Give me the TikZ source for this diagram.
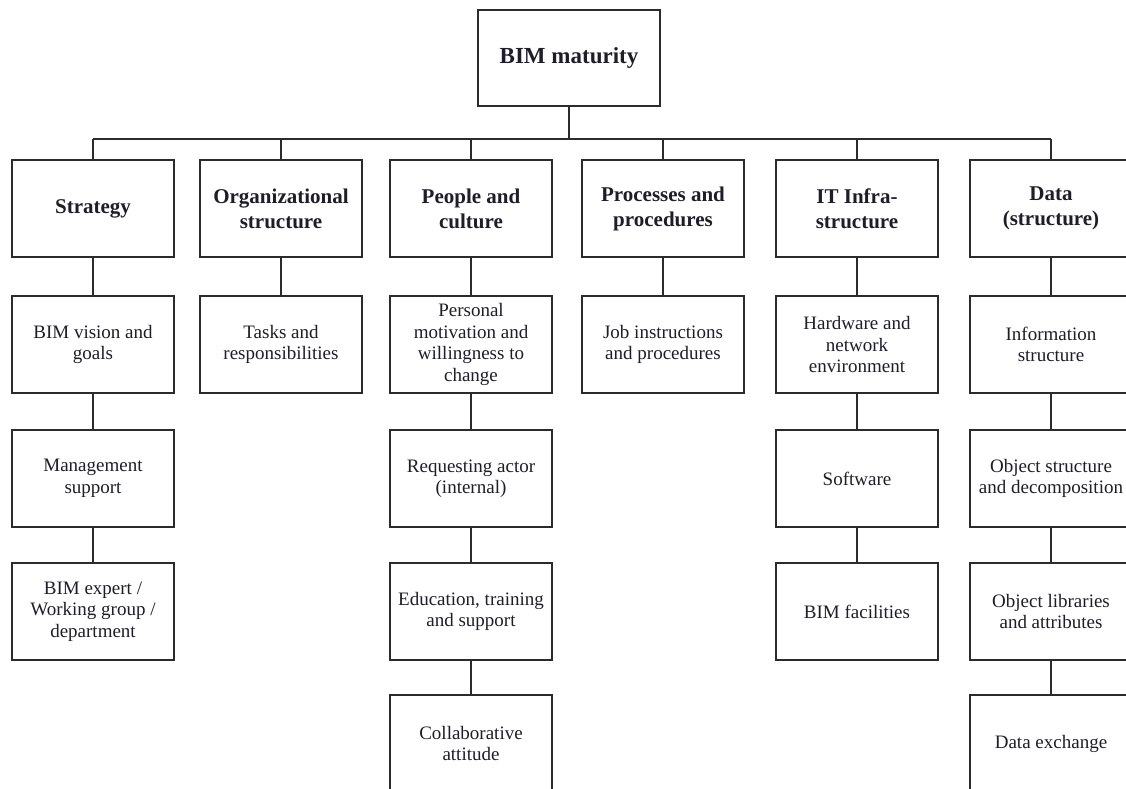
\documentclass[tikz,border=0pt]{standalone}
\usepackage{fontspec}
\setmainfont{Liberation Serif}
\begin{document}
\begin{tikzpicture}[x=1pt,y=-1pt,
  every node/.style={inner sep=0pt, align=center, text=txt},
  box/.style={draw=ln, line width=2pt, fill=white, minimum width=162pt, minimum height=97pt,
              font=\fontsize{19}{21.5}\selectfont},
  headbox/.style={box, font=\bfseries\fontsize{21}{25}\selectfont},
  rootbox/.style={box, minimum width=182pt, minimum height=96pt, font=\bfseries\fontsize{23}{27}\selectfont},
  link/.style={draw=ln, line width=2pt}]
\definecolor{ln}{HTML}{2B2B2B}
\definecolor{txt}{HTML}{1E1E2A}
\useasboundingbox (0,0) rectangle (1126,789);
\clip (0,0) rectangle (1126,789);

% root
\node[rootbox] (root) at (569,58) {BIM maturity};
\coordinate (bar) at (569,139);

% main dimensions
\node[headbox] (s)  at (93,208.5)  {Strategy};
\node[headbox] (o)  at (281,208.5) {Organizational\\structure};
\node[headbox] (p)  at (471,208.5) {People and\\culture};
\node[headbox] (pr) at (663,208.5) {Processes and\\procedures};
\node[headbox] (it) at (857,208.5) {IT Infra-\\structure};
\node[headbox] (d)  at (1051,208.5) {Data\\(structure)};

% second level
\node[box] (s1)  at (93,344.5)   {BIM vision and\\goals};
\node[box] (o1)  at (281,344.5)  {Tasks and\\responsibilities};
\node[box] (p1)  at (471,344.5)  {Personal\\motivation and\\willingness to\\change};
\node[box] (pr1) at (663,344.5)  {Job instructions\\and procedures};
\node[box] (it1) at (857,344.5)  {Hardware and\\network\\environment};
\node[box] (d1)  at (1051,344.5) {Information\\structure};

% third level
\node[box] (s2)  at (93,478.5)   {Management\\support};
\node[box] (p2)  at (471,478.5)  {Requesting actor\\(internal)};
\node[box] (it2) at (857,478.5)  {Software};
\node[box] (d2)  at (1051,478.5) {Object structure\\and decomposition};

% fourth level
\node[box] (s3)  at (93,611.5)   {BIM expert /\\Working group /\\department};
\node[box] (p3)  at (471,611.5)  {Education, training\\and support};
\node[box] (it3) at (857,611.5)  {BIM facilities};
\node[box] (d3)  at (1051,611.5) {Object libraries\\and attributes};

% fifth level
\node[box] (p4)  at (471,743.5)  {Collaborative\\attitude};
\node[box] (d4)  at (1051,743.5) {Data exchange};

% tree connectors
\draw[link] (root.south) -- (bar);
\draw[link] (s.north |- bar) -- (d.north |- bar);
\foreach \n in {s,o,p,pr,it,d} \draw[link] (\n.north) -- (\n.north |- bar);

\draw[link] (s.south) -- (s1.north);
\draw[link] (s1.south) -- (s2.north);
\draw[link] (s2.south) -- (s3.north);
\draw[link] (o.south) -- (o1.north);
\draw[link] (p.south) -- (p1.north);
\draw[link] (p1.south) -- (p2.north);
\draw[link] (p2.south) -- (p3.north);
\draw[link] (p3.south) -- (p4.north);
\draw[link] (pr.south) -- (pr1.north);
\draw[link] (it.south) -- (it1.north);
\draw[link] (it1.south) -- (it2.north);
\draw[link] (it2.south) -- (it3.north);
\draw[link] (d.south) -- (d1.north);
\draw[link] (d1.south) -- (d2.north);
\draw[link] (d2.south) -- (d3.north);
\draw[link] (d3.south) -- (d4.north);
\end{tikzpicture}
\end{document}
